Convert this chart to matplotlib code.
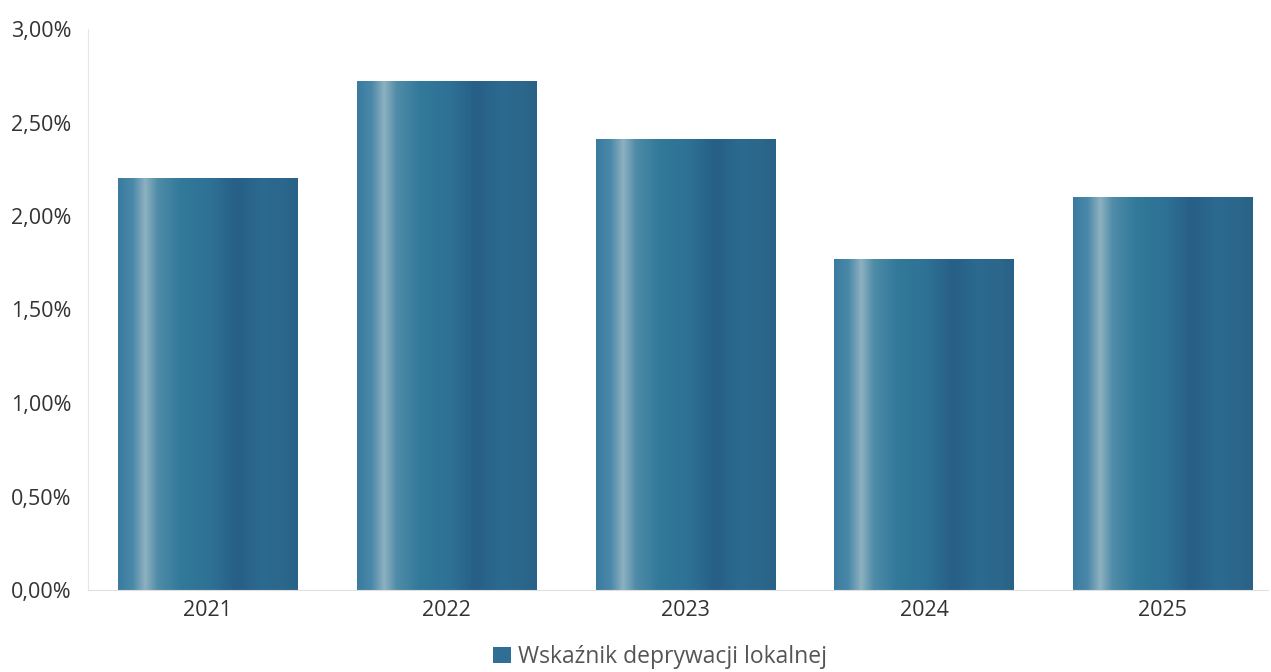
import numpy as np
import matplotlib.pyplot as plt
from matplotlib.colors import LinearSegmentedColormap
from matplotlib.ticker import FuncFormatter
from matplotlib.patches import Patch

plt.rcParams['font.family'] = ['Open Sans', 'DejaVu Sans']

# dane
lata = ['2021', '2022', '2023', '2024', '2025']
wartosci = [2.20, 2.72, 2.41, 1.77, 2.10]
etykieta = 'Wskaźnik deprywacji lokalnej'

# gradient słupka (poziomy)
grad = LinearSegmentedColormap.from_list('bar', [
    (0.00, '#3a7ba0'), (0.08, '#4a88a8'), (0.15, '#8db1c0'), (0.22, '#4f8ca8'),
    (0.35, '#32799a'), (0.52, '#2e7194'), (0.66, '#275f86'), (0.80, '#2c6a8f'),
    (0.93, '#2b668b'), (1.00, '#2a6187')])

fig = plt.figure(figsize=(12.71, 6.72), dpi=100)
ax = fig.add_axes([88/1271, 82/672, 1180/1271, 561/672])

x = np.arange(len(lata))
bars = ax.bar(x, wartosci, width=0.75, color='none', edgecolor='none')
g = np.linspace(0, 1, 256).reshape(1, -1)
for b in bars:
    ax.imshow(g, cmap=grad, aspect='auto', interpolation='bilinear',
              extent=[b.get_x(), b.get_x() + b.get_width(), 0, b.get_height()],
              zorder=2)

ax.set_xlim(-0.5, 4.44)
ax.set_ylim(0, 3.0)
ax.set_yticks(np.arange(0, 3.01, 0.5))
ax.yaxis.set_major_formatter(FuncFormatter(lambda v, p: f'{v:.2f}'.replace('.', ',') + '%'))
ax.set_xticks(x)
ax.set_xticklabels(lata)
ax.tick_params(length=0, labelsize=15.5, colors='#333333')
ax.tick_params(axis='y', pad=12)
ax.tick_params(axis='x', pad=7)

for s in ['top', 'right']:
    ax.spines[s].set_visible(False)
ax.spines['left'].set_color('#e6e6e6')
ax.spines['bottom'].set_color('#e0e0e0')

fig.legend(handles=[Patch(facecolor='#2f6f93', label=etykieta)], loc='center',
           bbox_to_anchor=(660/1271, 1 - 657/672), frameon=False, fontsize=16.5,
           handlelength=0.75, handleheight=0.75, handletextpad=0.3, labelcolor='#555555')

fig.savefig('out.png', dpi=100)
